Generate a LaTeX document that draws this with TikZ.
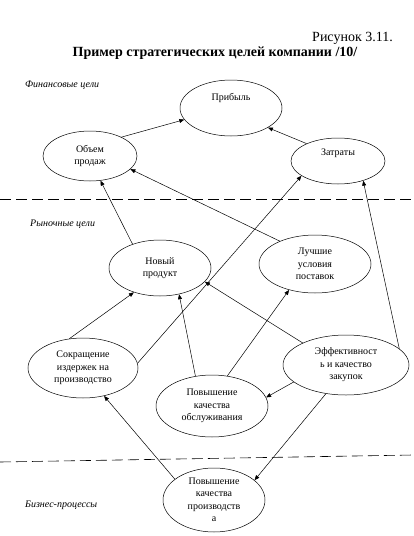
\documentclass[tikz,border=0pt]{standalone}
\usepackage{fontspec}
\setmainfont{Liberation Serif}
\usetikzlibrary{shapes.geometric,arrows.meta}
\tikzset{
  goal/.style={draw, ellipse, inner sep=0pt, align=center, line width=0.5pt,
    font=\fontsize{10}{12.5}\selectfont},
  link/.style={-{Triangle[length=5pt,width=4pt]}, line width=0.5pt},
  layer/.style={anchor=west, inner sep=0pt, font=\fontsize{10}{12}\selectfont\itshape},
  border/.style={dash pattern=on 11pt off 5pt, line width=0.6pt}
}
\begin{document}
\begin{tikzpicture}[x=1pt,y=-1pt]
\useasboundingbox (0,0) rectangle (413,536);
% title
\node[anchor=east, inner sep=0pt, font=\fontsize{14}{16}\selectfont] (fig) at (393,38) {Рисунок 3.11.};
\node[inner sep=0pt, font=\fontsize{14}{16}\selectfont\bfseries] (title) at (215,53) {Пример стратегических целей компании /10/};

% layers
\coordinate (fl) at (0,199);
\coordinate (fr) at (413,199);
\coordinate (bl) at (0,462);
\coordinate (br) at (413,455);
\draw[border] (fl) -- (fr);
\draw[border] (bl) -- (br);
\node[layer] (fin) at (25,85) {Финансовые цели};
\node[layer] (mkt) at (30,224) {Рыночные цели};
\node[layer] (biz) at (25,505) {Бизнес-процессы};

% goals
\node[goal, minimum width=102pt, minimum height=56pt, text depth=22pt] (pribyl) at (231,108) {Прибыль};
\node[goal, minimum width=94pt, minimum height=50pt] (prodazhi) at (90,156) {Объем\\продаж};
\node[goal, minimum width=94pt, minimum height=46pt, text depth=18pt] (zatraty) at (338,161) {Затраты};
\node[goal, minimum width=102pt, minimum height=56pt] (novyi) at (160,268) {Новый\\продукт};
\node[goal, minimum width=112pt, minimum height=58pt] (usloviya) at (315,264) {Лучшие\\условия\\поставок};
\node[goal, minimum width=110pt, minimum height=60pt] (izderzhki) at (83,368) {Сокращение\\издержек на\\производство};
\node[goal, minimum width=126pt, minimum height=60pt] (zakupki) at (346,365) {Эффективност\\ь и качество\\закупок};
\node[goal, minimum width=112pt, minimum height=62pt] (servis) at (212,406) {Повышение\\качества\\обслуживания};
\node[goal, minimum width=102pt, minimum height=64pt] (kachestvo) at (214,500) {Повышение\\качества\\производств\\а};

% links
\draw[link] (prodazhi.31) -- (pribyl.194);
\draw[link] (zatraty.151) -- (pribyl.332);
\draw[link] (novyi.139) -- (prodazhi.293);
\draw[link] (usloviya.147) -- (prodazhi.342);
\draw[link] (izderzhki.5) -- (zatraty.202);
\draw[link] (izderzhki.115) -- (novyi.223);
\draw[link] (servis.119) -- (novyi.306);
\draw[link] (servis.63) -- (usloviya.225);
\draw[link] (zakupki.153) -- (novyi.343);
\draw[link] (zakupki.17) -- (zatraty.322);
\draw[link] (zakupki.198) -- (servis.9);
\draw[link] (zakupki.235) -- (kachestvo.26);
\draw[link] (kachestvo.152) -- (izderzhki.307);
\end{tikzpicture}
\end{document}
